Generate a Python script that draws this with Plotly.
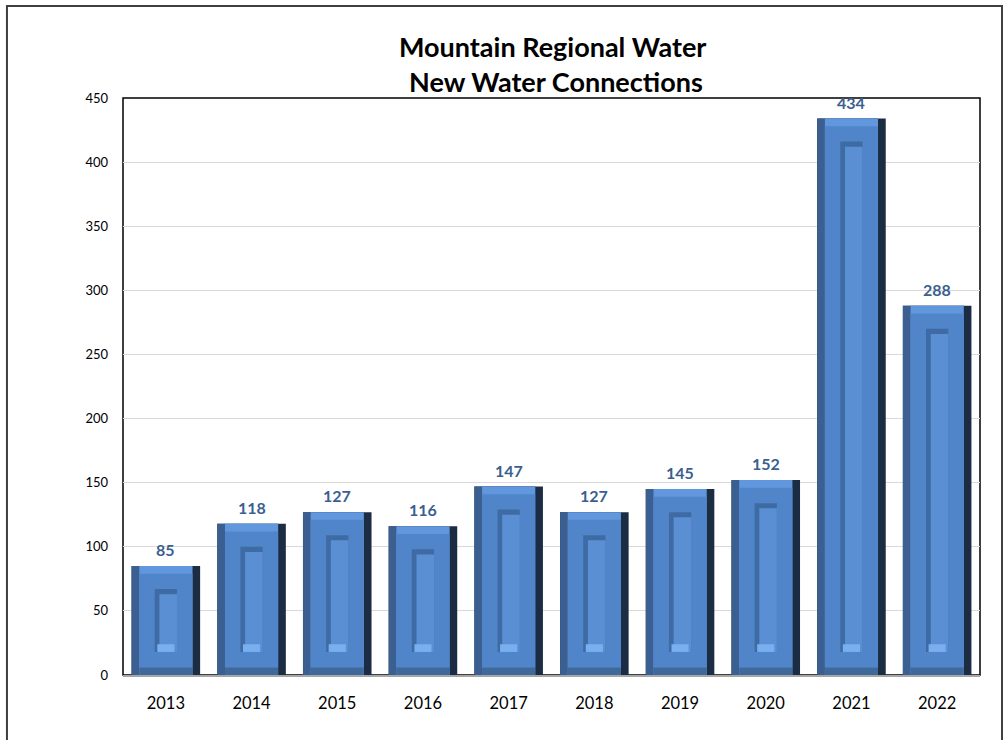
import plotly.graph_objects as go

years = ["2013", "2014", "2015", "2016", "2017", "2018", "2019", "2020", "2021", "2022"]
connections = [85, 118, 127, 116, 147, 127, 145, 152, 434, 288]
y_ticks = [0, 50, 100, 150, 200, 250, 300, 350, 400, 450]

title_text = "<b>Mountain Regional Water<br> New Water Connections</b>"
FONT = "Lato, 'Open Sans', sans-serif"

fig = go.Figure()

def layer(base, height, offset, width, color):
    fig.add_trace(go.Bar(
        x=years, y=height, base=base, offset=offset, width=width,
        marker=dict(color=color, line=dict(width=0)),
        hoverinfo="skip", showlegend=False,
    ))

bev = 6.0  # bevel thickness in value units
n = len(connections)
zeros = [0] * n
# right dark edge (full bar)
layer(zeros, connections, -0.4, 0.8, "#1b2c43")
# left edge
layer(zeros, connections, -0.4, 0.71, "#3a5f90")
# top bevel (light)
layer(zeros, connections, -0.31, 0.62, "#6197dc")
# bottom bevel
layer(zeros, [bev] * n, -0.31, 0.62, "#40699b")
# face
layer([bev] * n, [v - 2 * bev for v in connections], -0.31, 0.62, "#5185c9")
# inner panel outline (darker left/top)
layer([18] * n, [v - 36 for v in connections], -0.13, 0.26, "#3f6ba5")
# inner face
layer([18] * n, [v - 40 for v in connections], -0.075, 0.205, "#5a8fd3")
# inner bottom highlight
layer([18] * n, [6] * n, -0.1, 0.2, "#79afee")

for i, v in enumerate(connections):
    fig.add_annotation(
        x=i, y=v, text=f"<b>{v}</b>", showarrow=False,
        yanchor="bottom", yshift=5,
        font=dict(family=FONT, size=16, color="#3b5f8f"),
    )

# outer frame
fig.add_shape(type="rect", xref="paper", yref="paper",
              x0=-0.1354, x1=1.0257, y0=-0.125, y1=1.1594,
              line=dict(color="#3f3f3f", width=2), layer="below")
# plot area border
fig.add_shape(type="rect", xref="paper", yref="paper",
              x0=0, x1=1, y0=0, y1=1,
              line=dict(color="#000000", width=1.5), layer="below")

fig.update_layout(
    width=1003, height=740,
    margin=dict(l=123, r=23, t=98, b=65, autoexpand=False),
    paper_bgcolor="white", plot_bgcolor="white",
    barmode="overlay", bargap=0.2,
    title=dict(text=title_text, x=0.551, xanchor="center", y=0.923, yanchor="top",
               font=dict(family=FONT, size=27, color="black")),
    font=dict(family=FONT, color="black"),
    xaxis=dict(type="category", range=[-0.5, 9.5], showline=True, linecolor="#a6a6a6",
               linewidth=2, ticks="", tickfont=dict(size=16.5), ticklabelstandoff=12,
               showgrid=False, zeroline=False, fixedrange=True),
    yaxis=dict(range=[0, 450], tickvals=y_ticks, showgrid=True, gridcolor="#d9d9d9",
               gridwidth=1, zeroline=False, showline=False, ticks="",
               tickfont=dict(size=13), ticklabelstandoff=14, fixedrange=True),
)

fig.write_html("out.html", config={"displayModeBar": False},
               post_script="document.body.style.margin='0';document.body.style.overflow='hidden';")
